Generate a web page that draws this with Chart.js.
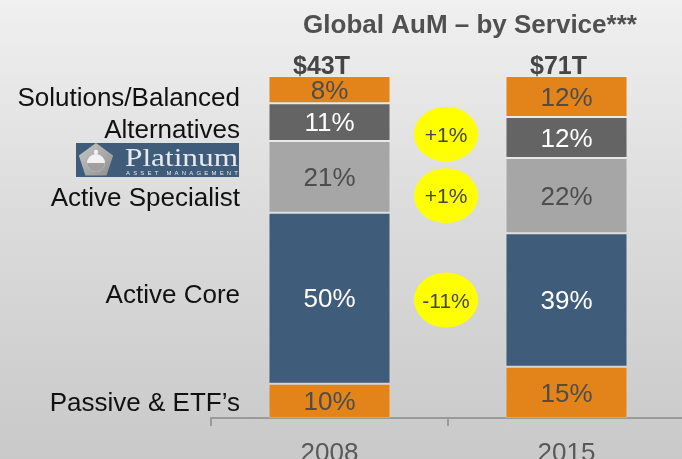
<!DOCTYPE html>
<html lang="en">
<head>
<meta charset="UTF-8">
<title>Global AuM - by Service</title>
<script src="https://cdn.jsdelivr.net/npm/chart.js@4.4.0/dist/chart.umd.min.js"></script>
<style>
html, body { margin: 0; padding: 0; overflow: hidden; }
.wrap {
  width: 682px;
  height: 459px;
  overflow: hidden;
  background: linear-gradient(to bottom, #f0f0f0 0%, #dcdcdc 45%, #c9c9ca 100%);
}
canvas { display: block; }
</style>
</head>
<body>
<div class="wrap">
  <canvas id="aum" width="685" height="459"></canvas>
</div>
<script>
// data
const years = ['2008', '2015']
const totals = ['$43T', '$71T']
const passive = [10, 15]
const activeCore = [50, 39]
const activeSpecialist = [21, 22]
const alternatives = [11, 12]
const solutions = [8, 12]

// change bubbles between the bars (value = height on the 0-100 scale)
const changeLabels = ['+1%', '+1%', '-11%']
const changeLevels = [83, 65, 34.5]

// row names on the left
const rowLabels = ['Solutions/Balanced', 'Alternatives', 'Active Specialist', 'Active Core', 'Passive & ETF\u2019s']
const rowLevels = [94, 84.5, 64.8, 36.4, 4.8]

const FONT = '"Liberation Sans", Arial, sans-serif'
const darkText = '#4d4d4d'

function drawLogo(ctx) {
  const x = 76, y = 143, w = 163, h = 34
  ctx.save()
  ctx.fillStyle = '#3f5c7b'
  ctx.fillRect(x, y, w, h)
  // pentagon
  const cx = 96, cy = 161, r = 18
  ctx.beginPath()
  for (let i = 0; i < 5; i++) {
    const a = -Math.PI / 2 + i * 2 * Math.PI / 5
    const px = cx + r * Math.cos(a), py = cy + r * Math.sin(a)
    if (i === 0) ctx.moveTo(px, py); else ctx.lineTo(px, py)
  }
  ctx.closePath()
  const g = ctx.createLinearGradient(cx - r, cy - r, cx + r, cy + r)
  g.addColorStop(0, '#c9c9c9')
  g.addColorStop(1, '#8a8a8a')
  ctx.fillStyle = g
  ctx.fill()
  // globe
  ctx.beginPath()
  ctx.arc(cx, cy + 2, 9, 0, Math.PI * 2)
  ctx.fillStyle = '#f2f2f2'
  ctx.fill()
  ctx.beginPath()
  ctx.arc(cx, cy + 2, 9, 0, Math.PI)
  ctx.fillStyle = '#a0a0a0'
  ctx.fill()
  ctx.beginPath()
  ctx.arc(cx, cy - 9, 2.2, 0, Math.PI * 2)
  ctx.fillStyle = '#f2f2f2'
  ctx.fill()
  // wordmark
  ctx.fillStyle = '#e6e9ee'
  ctx.textAlign = 'left'
  ctx.textBaseline = 'alphabetic'
  ctx.font = '25px "Liberation Serif", "DejaVu Serif", serif'
  const tw = ctx.measureText('Platinum').width
  ctx.save()
  ctx.translate(125, 166)
  ctx.scale(113 / tw, 1)
  ctx.fillText('Platinum', 0, 0)
  ctx.restore()
  ctx.font = '6px ' + FONT
  const sub = 'ASSET MANAGEMENT'
  const sw = ctx.measureText(sub).width
  const gap = (112 - sw) / (sub.length - 1)
  let sx = 126
  for (const ch of sub) {
    ctx.fillText(ch, sx, 175)
    sx += ctx.measureText(ch).width + gap
  }
  ctx.restore()
}

const slidePlugin = {
  id: 'slide',
  afterDatasetsDraw(chart) {
    const ctx = chart.ctx
    const yScale = chart.scales.y
    ctx.save()
    ctx.textAlign = 'center'
    ctx.textBaseline = 'middle'

    // values inside the segments
    chart.data.datasets.forEach((ds, di) => {
      const meta = chart.getDatasetMeta(di)
      meta.data.forEach((bar, i) => {
        const p = bar.getProps(['x', 'y', 'base'], true)
        ctx.fillStyle = ds.labelColor
        ctx.font = '26px ' + FONT
        ctx.fillText(ds.data[i] + '%', p.x, (p.y + p.base) / 2 + 2)
      })
    })

    // totals above bars
    const topMeta = chart.getDatasetMeta(chart.data.datasets.length - 1)
    ctx.fillStyle = '#454545'
    ctx.font = 'bold 25px ' + FONT
    topMeta.data.forEach((bar, i) => {
      ctx.fillText(totals[i], bar.x - 8, 67)
    })

    // title
    ctx.fillStyle = '#505050'
    ctx.font = 'bold 26px ' + FONT
    ctx.fillText('Global AuM \u2013 by Service***', 470, 26)

    // change bubbles
    const midX = (topMeta.data[0].x + topMeta.data[1].x) / 2 - 2
    changeLabels.forEach((t, i) => {
      const cy = yScale.getPixelForValue(changeLevels[i])
      ctx.beginPath()
      ctx.ellipse(midX, cy, 32, 27.5, 0, 0, Math.PI * 2)
      ctx.fillStyle = '#ffff00'
      ctx.fill()
      ctx.fillStyle = '#454545'
      ctx.font = '21px ' + FONT
      ctx.fillText(t, midX, cy + 2)
    })

    // row names
    ctx.textAlign = 'right'
    ctx.fillStyle = '#111111'
    ctx.font = '26px ' + FONT
    rowLabels.forEach((t, i) => {
      ctx.fillText(t, 240, yScale.getPixelForValue(rowLevels[i]) + 2)
    })
    ctx.restore()

    drawLogo(ctx)
  }
}

const seg = (label, data, color, labelColor) => ({
  label, data, labelColor,
  backgroundColor: color,
  borderColor: 'rgba(255,255,255,0.22)',
  borderWidth: 1,
  borderSkipped: false,
  barPercentage: 1,
  categoryPercentage: 0.515
})

new Chart(document.getElementById('aum'), {
  type: 'bar',
  data: {
    labels: years,
    datasets: [
      seg('Passive & ETF\u2019s', passive, '#e3841a', darkText),
      seg('Active Core', activeCore, '#3f5c7b', '#ffffff'),
      seg('Active Specialist', activeSpecialist, '#a6a6a6', darkText),
      seg('Alternatives', alternatives, '#646464', '#ffffff'),
      seg('Solutions/Balanced', solutions, '#e3841a', darkText)
    ]
  },
  options: {
    responsive: false,
    animation: false,
    layout: { padding: { left: 211, top: 76, right: 0, bottom: 0 } },
    plugins: {
      legend: { display: false },
      tooltip: { enabled: false }
    },
    scales: {
      x: {
        stacked: true,
        offset: true,
        afterFit: (axis) => { axis.height = 41 },
        grid: {
          offset: true,
          drawOnChartArea: false,
          drawTicks: true,
          tickLength: 8,
          color: '#9a9a9a',
          lineWidth: 2
        },
        border: { color: '#9a9a9a', width: 2 },
        ticks: {
          color: '#595959',
          padding: 12,
          font: { family: FONT, size: 26 }
        }
      },
      y: {
        stacked: true,
        display: false,
        min: 0,
        max: 100
      }
    }
  },
  plugins: [slidePlugin]
})
</script>
</body>
</html>
